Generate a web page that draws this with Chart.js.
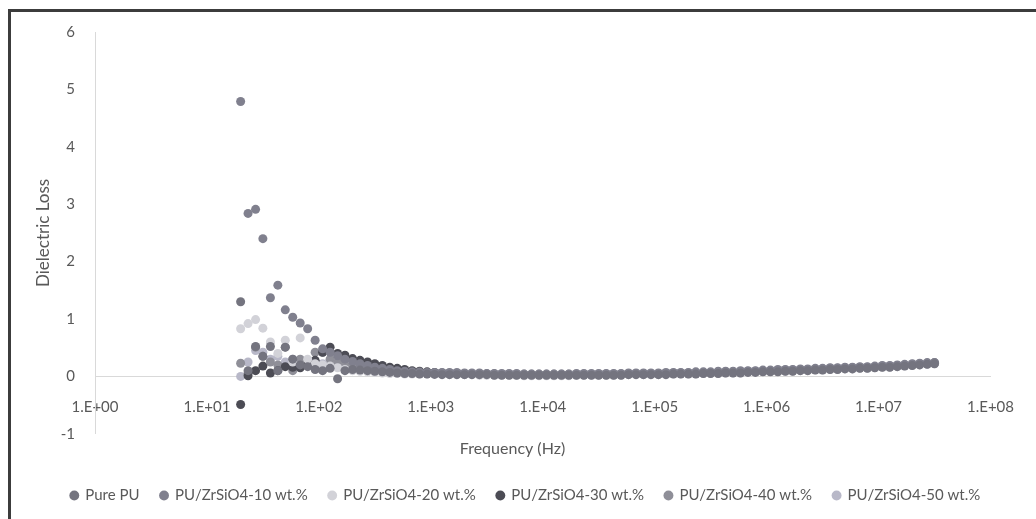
<!DOCTYPE html>
<html><head><meta charset="utf-8">
<script src="https://cdn.jsdelivr.net/npm/chart.js@4.4.0/dist/chart.umd.min.js"></script>
<style>
html,body{margin:0;padding:0;background:#fff;}
#wrap{position:relative;width:1036px;height:519px;overflow:hidden;}
#frame{position:absolute;left:8px;top:9px;width:1100px;height:600px;border-top:3px solid #3c3c3c;border-left:3px solid #3c3c3c;}
canvas{position:absolute;left:0;top:0;}
</style></head>
<body><div id="wrap"><div id="frame"></div><canvas id="c" width="1036" height="519"></canvas></div>
<script>
const frequencies = [20,23.3,27.2,31.6,36.9,43,50.1,58.4,68.1,79.4,92.6,108,126,147,171,
200,233,272,316,369,430,501,584,681,794,926,1080,1260,1470,1710,
2000,2330,2720,3160,3690,4300,5010,5840,6810,7940,9260,10800,12600,14700,17100,
2e4,2.33e4,2.72e4,3.16e4,3.69e4,4.3e4,5.01e4,5.84e4,6.81e4,7.94e4,9.26e4,1.08e5,1.26e5,1.47e5,1.71e5,
2e5,2.33e5,2.72e5,3.16e5,3.69e5,4.3e5,5.01e5,5.84e5,6.81e5,7.94e5,9.26e5,1.08e6,1.26e6,1.47e6,1.71e6,
2e6,2.33e6,2.72e6,3.16e6,3.69e6,4.3e6,5.01e6,5.84e6,6.81e6,7.94e6,9.26e6,1.08e7,1.26e7,1.47e7,1.71e7,
2e7,2.33e7,2.72e7,3.16e7];

const seriesNames = ['Pure PU','PU/ZrSiO4-10 wt.%','PU/ZrSiO4-20 wt.%','PU/ZrSiO4-30 wt.%','PU/ZrSiO4-40 wt.%','PU/ZrSiO4-50 wt.%'];

const purePU = [1.30,0.10,0.52,0.35,0.52,0.10,0.51,0.30,0.20,0.17,0.12,0.10,0.14,-0.04,0.10,0.12,0.11,0.10,0.09,0.08,0.07,0.06,0.05,0.05,0.04,0.04,0.035,0.03,
 .03,.03,.03,.03,.03,.03,
 .02,.02,.02,.02,.02,.02,.02,.02,
 .02,.02,.02,.02,.02,.02,.02,.02,
 .02,.02,.03,.03,.03,.03,.03,.03,
 .04,.04,.04,.04,.05,.05,.05,.06,
 .06,.06,.07,.07,.08,.08,.08,.09,
 .09,.10,.10,.11,.11,.12,.12,.13,
 .13,.14,.14,.15,.16,.16,.17,.18,
 .19,.20,.21,.22];

const zr10 = [4.79,2.84,2.91,2.40,1.37,1.59,1.16,1.03,0.93,0.83,0.63,0.48,0.42,0.36,0.30,0.26,0.22,0.19,0.16,0.14,0.12,0.10,0.09,0.08,0.075,0.07,0.07,0.07,
 .07,.07,.06,.06,.06,.05,
 .05,.05,.05,.05,.04,.04,.04,.04,
 .04,.04,.04,.05,.05,.05,.05,.05,
 .05,.05,.06,.06,.06,.06,.06,.07,
 .07,.07,.07,.08,.08,.08,.09,.09,
 .09,.10,.10,.10,.11,.11,.12,.12,
 .12,.13,.13,.14,.14,.15,.15,.16,
 .16,.17,.17,.18,.19,.19,.20,.21,
 .22,.23,.24,.24];

const zr20 = [0.83,0.92,0.99,0.84,0.60,0.40,0.63,0.25,0.67,0.30,0.22,0.20,0.18,0.15,0.12,0.10,0.09,0.08,0.07,0.06,0.05,0.05,0.04,0.04,0.04,0.04,0.04,0.04,
 .04,.03,.03,.03,.02,.02,
 .02,.02,.02,.02,.01,.01,.01,.01,
 .01,.01,.01,.02,.02,.02,.02,.02,
 .02,.02,.03,.03,.03,.03,.03,.03,
 .04,.04,.04,.04,.05,.05,.05,.06,
 .06,.06,.07,.07,.08,.08,.08,.09,
 .09,.10,.10,.11,.11,.12,.12,.13,
 .13,.14,.14,.15,.16,.16,.17,.18,
 .19,.20,.21,.22];

const zr30 = [-0.49,0.01,0.10,0.18,0.06,0.10,0.17,0.16,0.15,0.20,0.28,0.42,0.51,0.40,0.37,0.31,0.28,0.25,0.22,0.19,0.16,0.14,0.12,0.10,0.09,0.08,0.07,0.06,
 .05,.05,.04,.04,.04,.04,
 .04,.03,.03,.03,.03,.03,.03,.03,
 .03,.03,.03,.03,.03,.03,.03,.03,
 .03,.03,.04,.04,.04,.04,.04,.04,
 .05,.05,.05,.05,.06,.06,.06,.07,
 .07,.07,.08,.08,.09,.09,.09,.10,
 .10,.11,.11,.12,.12,.13,.13,.14,
 .14,.15,.15,.16,.17,.17,.18,.19,
 .20,.21,.22,.23];

const zr40 = [0.23,0.05,0.51,0.35,0.25,0.20,0.51,0.10,0.30,0.20,0.42,0.42,0.30,0.25,0.20,0.17,0.15,0.13,0.11,0.10,0.09,0.08,0.07,0.06,0.06,0.05,0.05,0.05,
 .06,.05,.05,.05,.05,.04,
 .04,.04,.04,.04,.04,.04,.04,.04,
 .04,.04,.04,.04,.04,.04,.04,.04,
 .04,.04,.05,.05,.05,.05,.05,.05,
 .06,.06,.06,.06,.07,.07,.07,.08,
 .08,.08,.09,.09,.10,.10,.10,.11,
 .11,.12,.12,.13,.13,.14,.14,.15,
 .15,.16,.16,.17,.18,.18,.19,.20,
 .21,.22,.23,.24];

const zr50 = [0.00,0.25,0.45,0.42,0.30,0.35,0.25,0.30,0.20,0.28,0.25,0.22,0.20,0.18,0.15,0.13,0.11,0.10,0.09,0.08,0.07,0.06,0.05,0.05,0.05,0.05,0.05,0.05,
 .05,.05,.04,.04,.04,.04,
 .03,.03,.03,.03,.03,.03,.03,.02,
 .02,.03,.03,.03,.03,.03,.03,.04,
 .04,.04,.04,.05,.05,.05,.05,.05,
 .05,.06,.06,.06,.06,.07,.07,.07,
 .08,.08,.08,.09,.09,.10,.10,.10,
 .11,.11,.12,.12,.13,.13,.14,.14,
 .15,.15,.16,.17,.17,.18,.19,.19,
 .20,.21,.22,.23];

const xTickValues = [1,10,100,1000,1e4,1e5,1e6,1e7,1e8];
const xTickLabels = ['1.E+00','1.E+01','1.E+02','1.E+03','1.E+04','1.E+05','1.E+06','1.E+07','1.E+08'];
const yTickValues = [-1,0,1,2,3,4,5,6];
const xTitle = 'Frequency (Hz)';
const yTitle = 'Dielectric Loss';

const colors = ['#74747f','#80808e','#d2d2d8','#4c4c55','#8f8f98','#b8b8c8'];
const allValues = [purePU, zr10, zr20, zr30, zr40, zr50];

const datasets = seriesNames.map((name, s) => ({
  label: name,
  data: frequencies.map((f, i) => ({x: f, y: allValues[s][i]})),
  backgroundColor: colors[s],
  borderColor: colors[s],
  borderWidth: 0,
  pointRadius: 4.5,
  pointStyle: 'circle',
  showLine: false
}));

const FONT = 'Lato, "Open Sans", sans-serif';
const TXT = '#595959';

const legendShift = {
  id: 'legendShift',
  afterLayout(chart) {
    if (chart.legend) { chart.legend.left += 13; chart.legend.right += 13; }
  }
};

new Chart(document.getElementById('c'), {
  type: 'scatter',
  data: {datasets},
  plugins: [legendShift],
  options: {
    responsive: false,
    animation: false,
    layout: {padding: {top: 32, left: 30, right: 41, bottom: 6}},
    plugins: {
      tooltip: {enabled: false},
      legend: {
        position: 'bottom',
        labels: {usePointStyle: true, pointStyle: 'circle', boxWidth: 7, boxHeight: 7, padding: 21,
                 color: TXT, font: {family: FONT, size: 15}}
      },
      title: {
        display: true, text: xTitle, position: 'bottom', weight: 500,
        color: TXT, font: {family: FONT, size: 16, weight: 'normal'},
        padding: {top: 5, bottom: 9}
      }
    },
    scales: {
      x: {
        type: 'logarithmic', min: 1, max: 1e8,
        position: {y: 0},
        grid: {display: false, drawTicks: false},
        border: {display: true, color: '#d9d9d9', width: 1},
        afterBuildTicks: s => { s.ticks = xTickValues.map(v => ({value: v})); },
        ticks: {
          autoSkip: false, maxRotation: 0, padding: 22, color: TXT,
          font: {family: FONT, size: 15},
          callback: (v) => { const i = xTickValues.indexOf(v); return i >= 0 ? xTickLabels[i] : ''; }
        }
      },
      y: {
        min: -1, max: 6,
        grid: {display: false, drawTicks: false},
        border: {display: true, color: '#d9d9d9', width: 1},
        afterBuildTicks: s => { s.ticks = yTickValues.map(v => ({value: v})); },
        afterFit: s => { s.width = 65; },
        ticks: {padding: 20, color: TXT, font: {family: FONT, size: 15}},
        title: {display: true, text: yTitle, color: TXT, font: {family: FONT, size: 17}, padding: {top: 3, bottom: 0}}
      }
    }
  }
});
</script></body></html>
